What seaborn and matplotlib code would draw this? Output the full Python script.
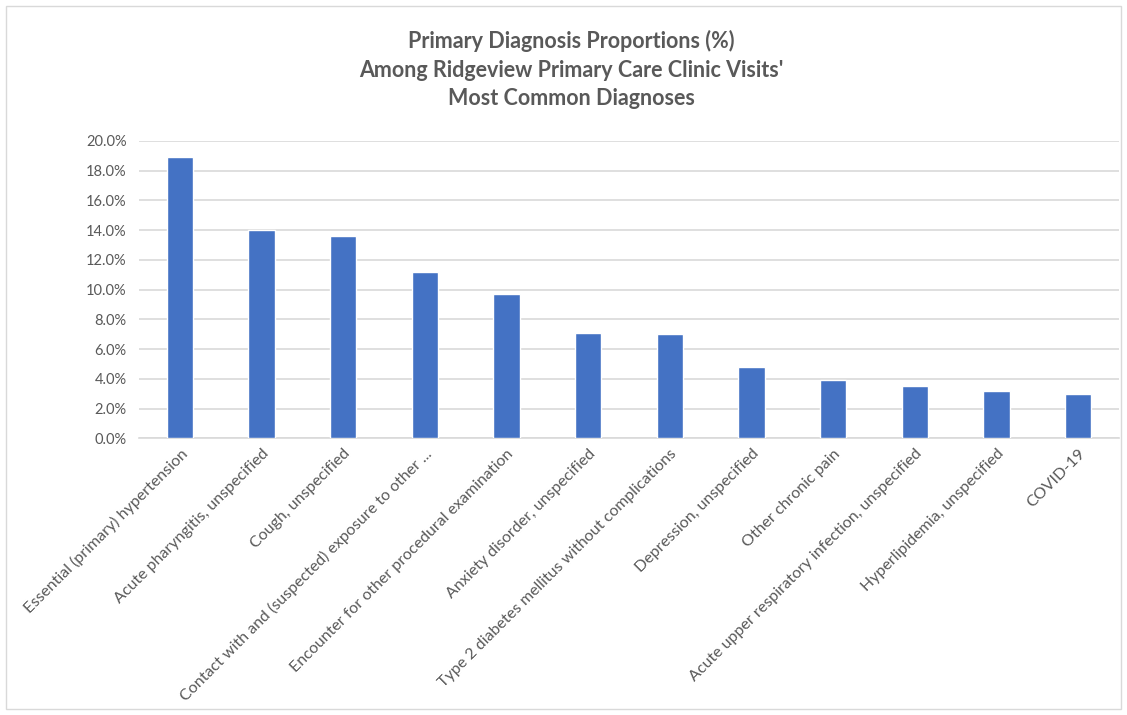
import matplotlib
matplotlib.use("Agg")
import matplotlib.pyplot as plt
import matplotlib.ticker as mticker
import seaborn as sns
import pandas as pd

diagnoses = [
    "Essential (primary) hypertension",
    "Acute pharyngitis, unspecified",
    "Cough, unspecified",
    "Contact with and (suspected) exposure to other ...",
    "Encounter for other procedural examination",
    "Anxiety disorder, unspecified",
    "Type 2 diabetes mellitus without complications",
    "Depression, unspecified",
    "Other chronic pain",
    "Acute upper respiratory infection, unspecified",
    "Hyperlipidemia, unspecified",
    "COVID-19",
]
proportions = [0.189, 0.140, 0.136, 0.112, 0.097, 0.071, 0.070, 0.048, 0.039, 0.035, 0.032, 0.030]

df = pd.DataFrame({"diagnosis": diagnoses, "proportion": proportions})

sns.set_style("white")
plt.rcParams["font.family"] = ["Lato", "DejaVu Sans"]

GRAY = "#595959"
fig = plt.figure(figsize=(11.27, 7.15), dpi=100)
ax = fig.add_axes([0.1233, 0.387, 0.8696, 0.416])

sns.barplot(data=df, x="diagnosis", y="proportion", color="#4472C4",
            saturation=1, width=0.32, ax=ax, zorder=3)

ax.set_ylim(0, 0.20)
ax.set_xlim(-0.5, len(diagnoses) - 0.5)
ax.yaxis.set_major_locator(mticker.MultipleLocator(0.02))
ax.yaxis.set_major_formatter(mticker.PercentFormatter(1.0, decimals=1))
ax.grid(axis="y", color="#d9d9d9", linewidth=1.2, zorder=0)
for s in ["top", "right", "left"]:
    ax.spines[s].set_visible(False)
ax.spines["bottom"].set_color("#d9d9d9")
ax.spines["bottom"].set_linewidth(1.2)
ax.tick_params(axis="both", length=0, colors=GRAY)
ax.tick_params(axis="y", pad=9, labelsize=10.5)
ax.tick_params(axis="x", pad=6, labelsize=11.5)
ax.set_xticks(range(len(diagnoses)))
ax.set_xticklabels(diagnoses, rotation=45, ha="right", rotation_mode="anchor")
ax.set_xlabel("")
ax.set_ylabel("")

fig.text(0.507, 0.958,
         "Primary Diagnosis Proportions (%)\nAmong Ridgeview Primary Care Clinic Visits'\nMost Common Diagnoses",
         ha="center", va="top", fontsize=15.5, fontweight="bold", color=GRAY,
         linespacing=1.45)

fig.patches.append(plt.Rectangle((6 / 1127, 6 / 715), 1115 / 1127, 703 / 715,
                                 transform=fig.transFigure, fill=False,
                                 edgecolor="#d9d9d9", linewidth=1))

fig.savefig("out.png", dpi=100)
